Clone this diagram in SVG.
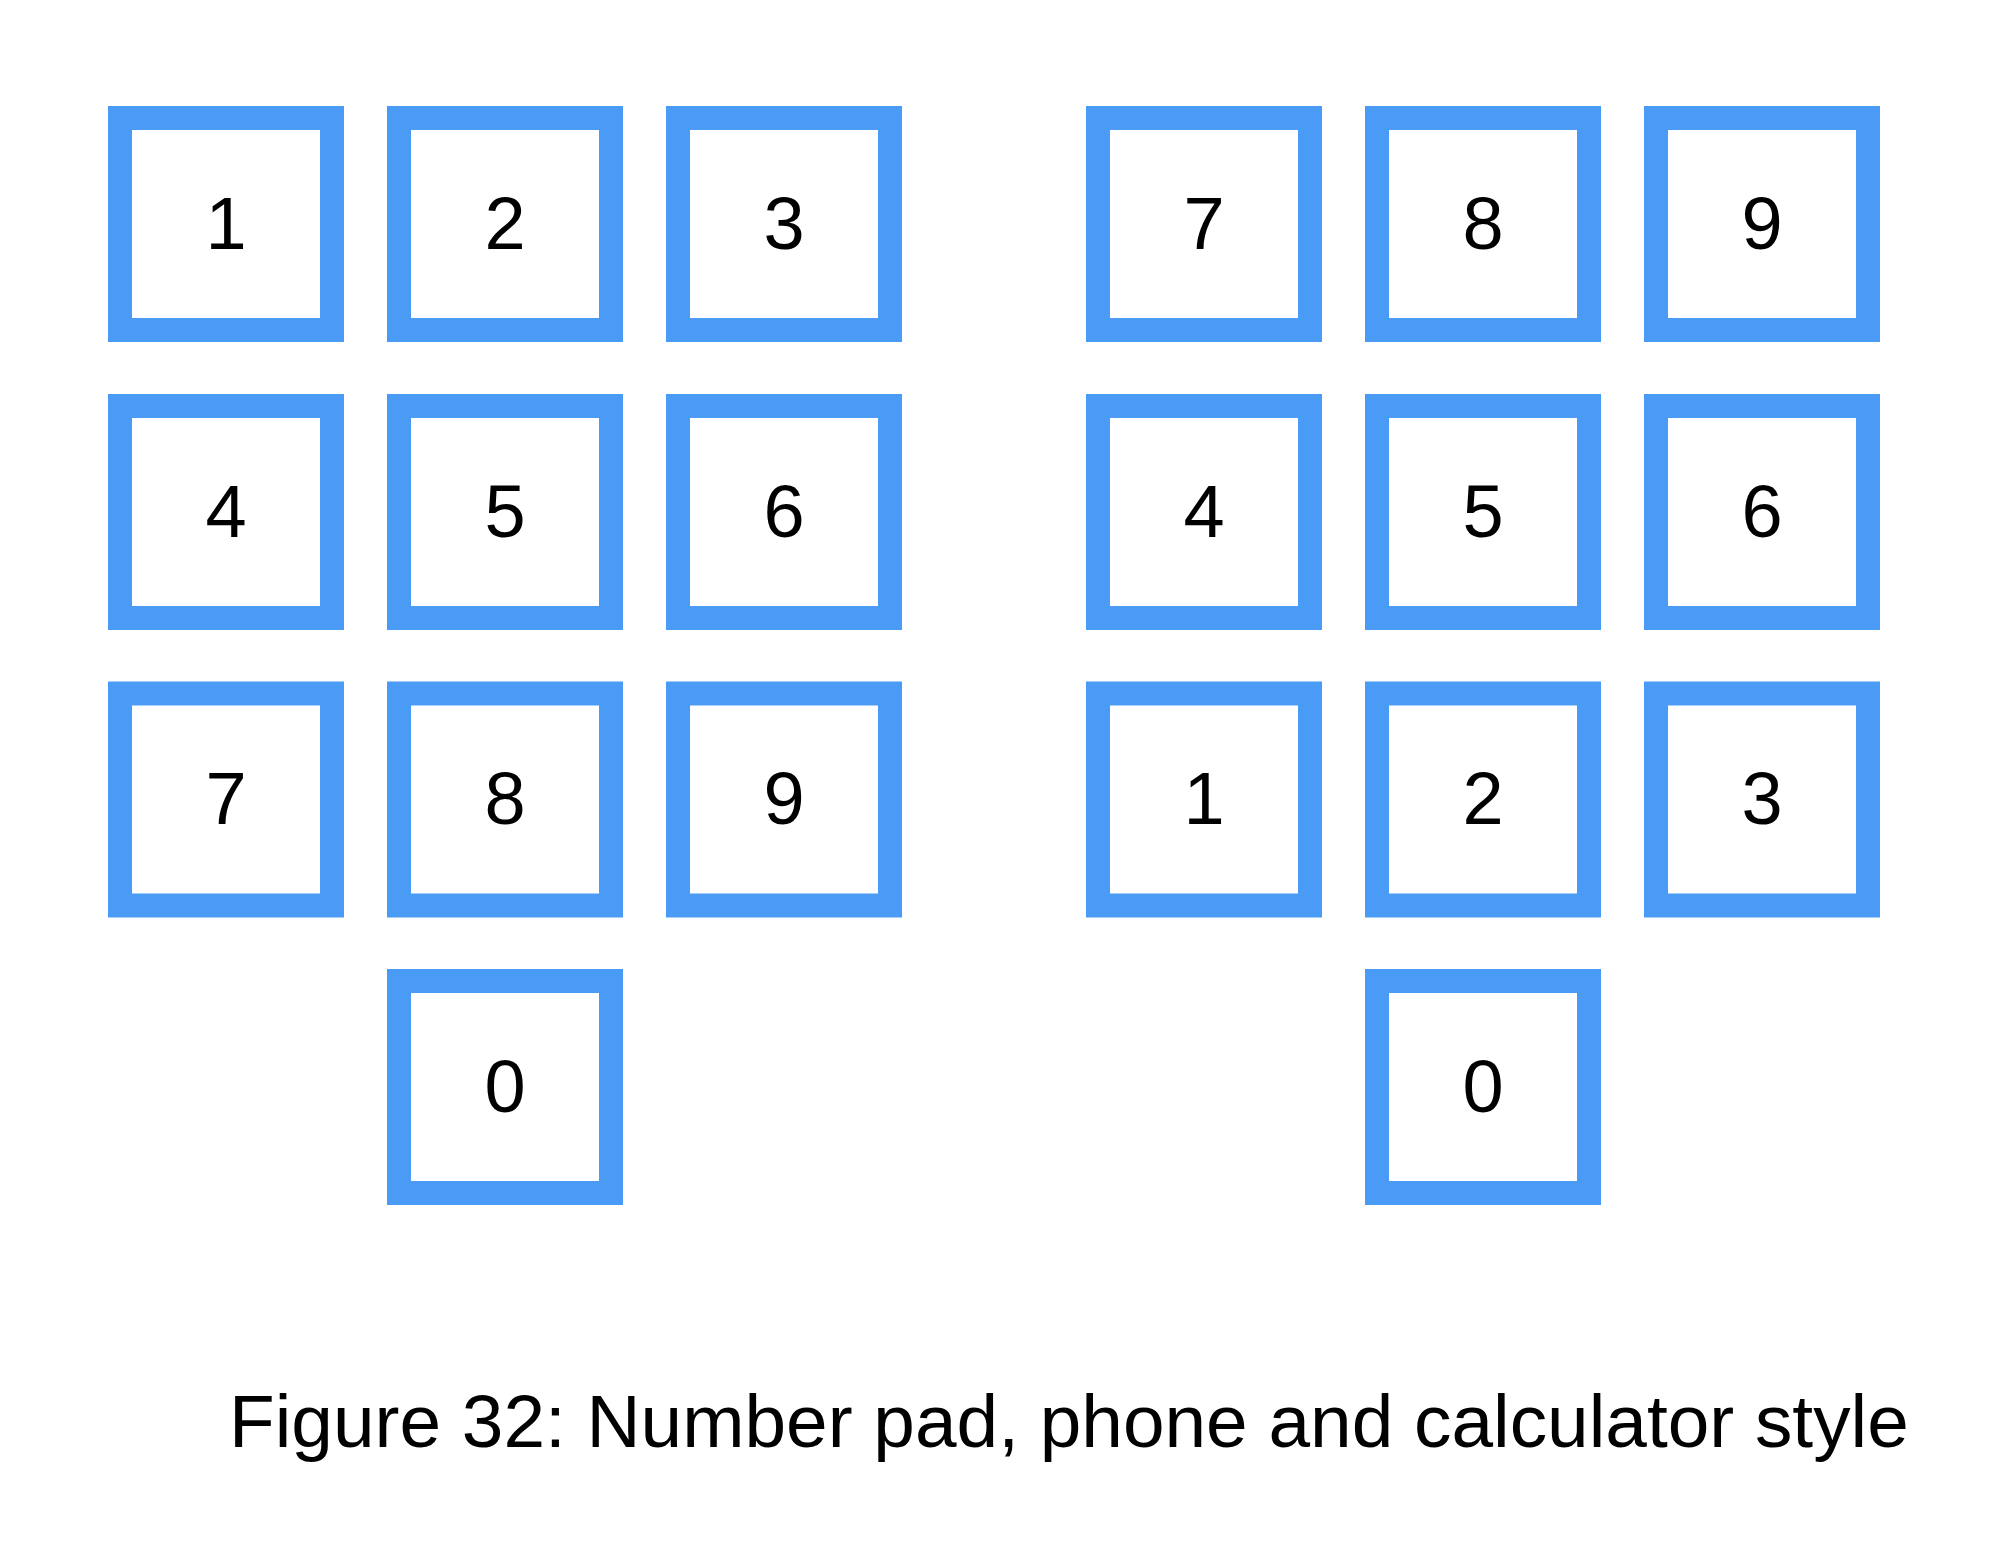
<svg xmlns="http://www.w3.org/2000/svg" width="2000" height="1544" viewBox="0 0 2000 1544">
<style>
.key rect{fill:#ffffff;stroke:#4A9BF6;stroke-width:24}
.key text{font-family:"Liberation Sans",Arial,sans-serif;font-size:74px;fill:#000;text-anchor:middle}
.cap{font-family:"Liberation Sans",Arial,sans-serif;font-size:74.8px;fill:#000}
</style>
<rect width="2000" height="1544" fill="#ffffff"/>
<g id="numpad">
<g id="np-1" class="key"><rect x="120" y="118" width="212" height="212"/><text x="226" y="248.5">1</text></g>
<g id="np-2" class="key"><rect x="399" y="118" width="212" height="212"/><text x="505" y="248.5">2</text></g>
<g id="np-3" class="key"><rect x="678" y="118" width="212" height="212"/><text x="784" y="248.5">3</text></g>
<g id="np-4" class="key"><rect x="120" y="406" width="212" height="212"/><text x="226" y="536.5">4</text></g>
<g id="np-5" class="key"><rect x="399" y="406" width="212" height="212"/><text x="505" y="536.5">5</text></g>
<g id="np-6" class="key"><rect x="678" y="406" width="212" height="212"/><text x="784" y="536.5">6</text></g>
<g id="np-7" class="key"><rect x="120" y="693.5" width="212" height="212"/><text x="226" y="824">7</text></g>
<g id="np-8" class="key"><rect x="399" y="693.5" width="212" height="212"/><text x="505" y="824">8</text></g>
<g id="np-9" class="key"><rect x="678" y="693.5" width="212" height="212"/><text x="784" y="824">9</text></g>
<g id="np-0" class="key"><rect x="399" y="981" width="212" height="212"/><text x="505" y="1111.5">0</text></g>
</g>
<g id="calcpad">
<g id="cp-7" class="key"><rect x="1098" y="118" width="212" height="212"/><text x="1204" y="248.5">7</text></g>
<g id="cp-8" class="key"><rect x="1377" y="118" width="212" height="212"/><text x="1483" y="248.5">8</text></g>
<g id="cp-9" class="key"><rect x="1656" y="118" width="212" height="212"/><text x="1762" y="248.5">9</text></g>
<g id="cp-4" class="key"><rect x="1098" y="406" width="212" height="212"/><text x="1204" y="536.5">4</text></g>
<g id="cp-5" class="key"><rect x="1377" y="406" width="212" height="212"/><text x="1483" y="536.5">5</text></g>
<g id="cp-6" class="key"><rect x="1656" y="406" width="212" height="212"/><text x="1762" y="536.5">6</text></g>
<g id="cp-1" class="key"><rect x="1098" y="693.5" width="212" height="212"/><text x="1204" y="824">1</text></g>
<g id="cp-2" class="key"><rect x="1377" y="693.5" width="212" height="212"/><text x="1483" y="824">2</text></g>
<g id="cp-3" class="key"><rect x="1656" y="693.5" width="212" height="212"/><text x="1762" y="824">3</text></g>
<g id="cp-0" class="key"><rect x="1377" y="981" width="212" height="212"/><text x="1483" y="1111.5">0</text></g>
</g>
<g id="connectors"/>
<text id="caption" class="cap" x="229" y="1447">Figure 32: Number pad, phone and calculator style</text>
</svg>
